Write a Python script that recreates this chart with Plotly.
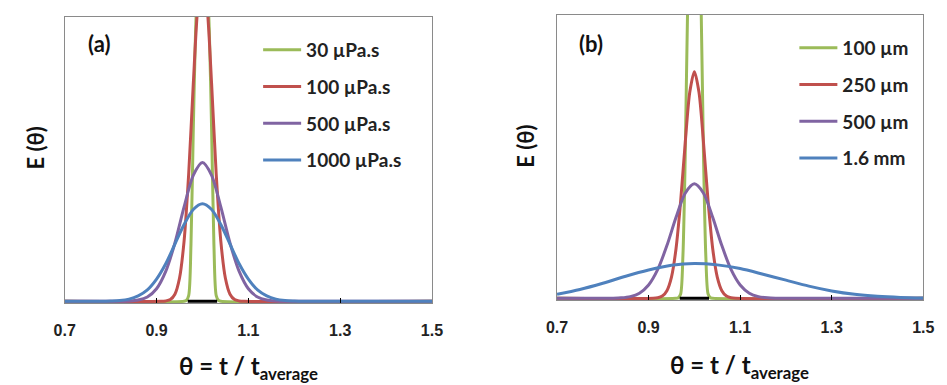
import plotly.graph_objects as go

# ---------------- data ----------------
TICKS = [0.7, 0.9, 1.1, 1.3, 1.5]
TICK_LABELS = ["0.7", "0.9", "1.1", "1.3", "1.5"]

A_NAMES = ["30 µPa.s", "100 µPa.s", "500 µPa.s", "1000 µPa.s"]
B_NAMES = ["100 µm", "250 µm", "500 µm", "1.6 mm"]

# panel (a)
A_green_x = [0.7, 0.96, 0.965, 0.97, 0.975, 0.98, 0.985, 0.99, 0.995, 1.0,
             1.005, 1.01, 1.015, 1.02, 1.025, 1.03, 1.035, 1.04, 1.5]
A_green_y = [0, 0, 0.003, 0.02, 0.2, 0.6, 0.95, 1.15, 1.3, 1.35,
             1.3, 1.15, 0.95, 0.6, 0.2, 0.02, 0.003, 0, 0]

A_red_x = [0.7, 0.91, 0.92, 0.93, 0.94, 0.95, 0.96, 0.97, 0.98, 0.99, 1.0,
           1.01, 1.02, 1.03, 1.04, 1.05, 1.06, 1.07, 1.08, 1.09, 1.5]
A_red_y = [0, 0, 0.0013, 0.006, 0.025, 0.081, 0.212, 0.447, 0.763, 1.04, 1.16,
           1.04, 0.763, 0.447, 0.212, 0.081, 0.025, 0.006, 0.0013, 0, 0]

A_purple_x = [0.7, 0.82, 0.84, 0.86, 0.88, 0.90, 0.92, 0.94, 0.96, 0.98, 1.0,
              1.02, 1.04, 1.06, 1.08, 1.10, 1.12, 1.14, 1.16, 1.18, 1.5]
A_purple_y = [0, 0, 0.001, 0.0044, 0.015, 0.044, 0.105, 0.205, 0.332, 0.443, 0.488,
              0.443, 0.332, 0.205, 0.105, 0.044, 0.015, 0.0044, 0.001, 0, 0]

A_blue_x = [0.7, 0.78, 0.80, 0.82, 0.84, 0.86, 0.88, 0.90, 0.92, 0.94, 0.96, 0.98, 1.0,
            1.02, 1.04, 1.06, 1.08, 1.10, 1.12, 1.14, 1.16, 1.18, 1.20, 1.22, 1.5]
A_blue_y = [0, 0, 0.001, 0.0028, 0.0076, 0.019, 0.040, 0.078, 0.132, 0.201, 0.270, 0.323, 0.343,
            0.323, 0.270, 0.201, 0.132, 0.078, 0.040, 0.019, 0.0076, 0.0028, 0.001, 0, 0]

# panel (b)
B_green_x = [0.7, 0.96, 0.965, 0.97, 0.975, 0.98, 0.985, 0.99, 0.995, 1.0,
             1.005, 1.01, 1.015, 1.02, 1.025, 1.03, 1.035, 1.04, 1.5]
B_green_y = [0, 0, 0.002, 0.015, 0.15, 0.5, 1.0, 1.3, 1.5, 1.55,
             1.5, 1.3, 1.0, 0.5, 0.15, 0.015, 0.002, 0, 0]

B_red_x = [0.7, 0.91, 0.92, 0.93, 0.94, 0.95, 0.96, 0.97, 0.98, 0.99, 1.0,
           1.01, 1.02, 1.03, 1.04, 1.05, 1.06, 1.07, 1.08, 1.09, 1.5]
B_red_y = [0, 0, 0.0019, 0.0078, 0.027, 0.075, 0.176, 0.342, 0.548, 0.728, 0.80,
           0.728, 0.548, 0.342, 0.176, 0.075, 0.027, 0.0078, 0.0019, 0, 0]

B_purple_x = [0.7, 0.80, 0.82, 0.84, 0.86, 0.88, 0.90, 0.92, 0.94, 0.96, 0.98, 1.0,
              1.02, 1.04, 1.06, 1.08, 1.10, 1.12, 1.14, 1.16, 1.18, 1.20, 1.5]
B_purple_y = [0, 0, 0.0005, 0.0017, 0.006, 0.018, 0.047, 0.102, 0.186, 0.286, 0.371, 0.404,
              0.371, 0.286, 0.186, 0.102, 0.047, 0.018, 0.006, 0.0017, 0.0005, 0, 0]

B_blue_x = [0.70, 0.75, 0.80, 0.85, 0.90, 0.95, 1.00, 1.05, 1.10, 1.15, 1.20,
            1.25, 1.30, 1.35, 1.40, 1.45, 1.50]
B_blue_y = [0.014, 0.031, 0.053, 0.078, 0.100, 0.117, 0.123, 0.118, 0.105, 0.085, 0.064,
            0.043, 0.026, 0.014, 0.007, 0.003, 0.001]

BLACK_x = [0.968, 1.032]
BLACK_y = [0, 0]

COLORS = ["#9BBB59", "#C0504D", "#8064A2", "#4F81BD"]

# ---------------- figure ----------------
fig = go.Figure()

A_series = [(A_green_x, A_green_y), (A_red_x, A_red_y), (A_purple_x, A_purple_y), (A_blue_x, A_blue_y)]
B_series = [(B_green_x, B_green_y), (B_red_x, B_red_y), (B_purple_x, B_purple_y), (B_blue_x, B_blue_y)]

for i, ((x, y), name) in enumerate(zip(A_series, A_NAMES)):
    fig.add_trace(go.Scatter(x=x, y=y, mode="lines", name=name, xaxis="x", yaxis="y",
                             line=dict(color=COLORS[i], width=3, shape="spline", smoothing=0.8),
                             legend="legend", legendgroup="a%d" % i))
fig.add_trace(go.Scatter(x=BLACK_x, y=BLACK_y, mode="lines", showlegend=False, xaxis="x", yaxis="y",
                         line=dict(color="black", width=3)))

for i, ((x, y), name) in enumerate(zip(B_series, B_NAMES)):
    fig.add_trace(go.Scatter(x=x, y=y, mode="lines", name=name, xaxis="x2", yaxis="y2",
                             line=dict(color=COLORS[i], width=3, shape="spline", smoothing=0.8),
                             legend="legend2", legendgroup="b%d" % i))
fig.add_trace(go.Scatter(x=BLACK_x, y=BLACK_y, mode="lines", showlegend=False, xaxis="x2", yaxis="y2",
                         line=dict(color="black", width=3)))

W, H = 947, 385

def xax(dom, anchor):
    return dict(domain=dom, anchor=anchor, range=[0.7, 1.5], tickvals=TICKS, ticktext=TICK_LABELS,
                ticks="inside", ticklen=5, tickcolor="black", tickwidth=1,
                showline=True, linecolor="#8a8a8a", linewidth=1, mirror=True,
                showgrid=False, zeroline=False, ticklabelstandoff=13,
                tickfont=dict(family="Liberation Sans, Arial", size=16, color="#222", weight="bold"))

def yax(dom, anchor):
    return dict(domain=dom, anchor=anchor, range=[-0.006, 1.0], showticklabels=False, ticks="",
                showline=True, linecolor="#8a8a8a", linewidth=1, mirror=True,
                showgrid=False, zeroline=False)

leg_font = dict(family="Lato, Open Sans, sans-serif", size=19, color="#222", weight="bold")

fig.update_layout(
    width=W, height=H, margin=dict(l=0, r=0, t=0, b=0),
    paper_bgcolor="white", plot_bgcolor="white", showlegend=True,
    xaxis=xax([55 / W, 431 / W], "y"),
    yaxis=yax([1 - 303 / H, 1 - 17 / H], "x"),
    xaxis2=xax([559 / W, 934 / W], "y2"),
    yaxis2=yax([1 - 300 / H, 1 - 15 / H], "x2"),
    legend=dict(x=253 / W, y=1 - 31 / H, xanchor="left", yanchor="top", bgcolor="rgba(0,0,0,0)",
                font=leg_font, itemwidth=38, tracegroupgap=9, traceorder="grouped"),
    legend2=dict(x=802 / W, y=1 - 29 / H, xanchor="left", yanchor="top", bgcolor="rgba(0,0,0,0)",
                 font=leg_font, itemwidth=38, tracegroupgap=9, traceorder="grouped"),
)

ann_font = dict(family="Lato, Open Sans, sans-serif", color="#111")
annotations = [
    dict(text="<b>(a)</b>", x=90 / W, y=1 - 43 / H, font=dict(size=22, **ann_font)),
    dict(text="<b>(b)</b>", x=594 / W, y=1 - 43 / H, font=dict(size=22, **ann_font)),
    dict(text="<b>E (θ)</b>", x=25 / W, y=1 - 148 / H, textangle=-90, font=dict(size=22, **ann_font)),
    dict(text="<b>E (θ)</b>", x=526 / W, y=1 - 146 / H, textangle=-90, font=dict(size=22, **ann_font)),
    dict(text="<b>θ = t / t<sub>average</sub></b>", x=243 / W, y=1 - 367 / H, font=dict(size=24, **ann_font)),
    dict(text="<b>θ = t / t<sub>average</sub></b>", x=746 / W, y=1 - 366 / H, font=dict(size=24, **ann_font)),
]
for a in annotations:
    a.update(xref="paper", yref="paper", showarrow=False, xanchor="center", yanchor="middle")
fig.update_layout(annotations=annotations)

fig.write_html("out.html", config={"displayModeBar": False},
               post_script="document.body.style.margin='0';document.body.style.overflow='hidden';")
